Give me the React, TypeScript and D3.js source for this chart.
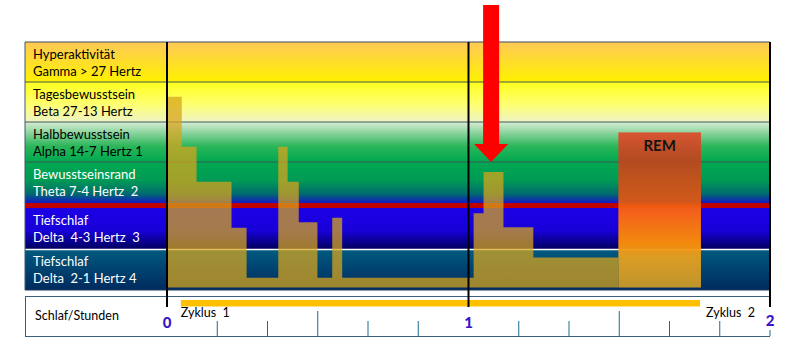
import * as d3 from 'd3';

const W = 798;
const H = 355;

// band labels (top to bottom)
const bandTitles = ['Hyperaktivität', 'Tagesbewusstsein', 'Halbbewusstsein', 'Bewusstseinsrand', 'Tiefschlaf', 'Tiefschlaf'];
const bandSubtitles = ['Gamma > 27 Hertz', 'Beta 27-13 Hertz', 'Alpha 14-7 Hertz 1', 'Theta 7-4 Hertz  2', 'Delta  4-3 Hertz  3', 'Delta  2-1 Hertz 4'];

// hypnogram: step start (hours) and depth (band units, 0 = top)
const sleepStart = [0, 0.049, 0.098, 0.214, 0.264, 0.369, 0.4, 0.437, 0.499, 0.548, 0.581, 1.017, 1.05, 1.116, 1.215, 1.497];
const sleepDepth = [1.37, 2.62, 3.43, 4.48, 5.7, 2.62, 3.43, 4.35, 5.7, 4.24, 5.7, 4.13, 3.22, 4.47, 5.21, 5.21];
const sleepFloor = 5.94;

// REM phase
const remStart = 1.497;
const remEnd = 1.771;
const remDepth = 2.26;

// cycle bar + axis
const cycleStart = 0.046;
const cycleEnd = 1.768;
const hourTicks = [0, 1, 2];
const minorTicks = [1, 2, 3, 4, 5, 7, 8, 9, 10, 11].map((i) => i / 6);
const arrowHour = 1.075;

const bandGradients: [number, string][][] = [
  [[0, '#ffc957'], [1, '#fff200']],
  [[0, '#ffff1c'], [0.55, '#ffff70'], [1, '#eef3c4']],
  [[0, '#d8ecd4'], [0.6, '#2cb65a'], [1, '#00a850']],
  [[0, '#00a850'], [0.45, '#009a55'], [0.78, '#006a6e'], [1, '#1418c8']],
  [[0, '#1c00e6'], [0.55, '#1800d8'], [1, '#00005e']],
  [[0, '#005a80'], [1, '#002a5e']],
];
const bandTextColor = ['#000', '#000', '#000', '#fff', '#fff', '#fff'];

const remGradient: [number, string][] = [
  [0, '#dc4e2e'],
  [0.18, '#bc461f'],
  [0.45, '#dc5a14'],
  [0.5, '#ff6410'],
  [0.72, '#ff9206'],
  [0.8, '#e8a020'],
  [1, '#c89a28'],
];

export default function App() {
  const x = d3.scaleLinear().domain([0, 2]).range([167, 770]);
  const y = d3.scaleLinear().domain([0, 1, 2, 3, 4, 5, 6]).range([42, 82, 122, 162, 208, 249, 290]);
  const left = 25;

  const pts = sleepStart.map((t, i) => ({ t, d: sleepDepth[i] }));
  const area = d3
    .area<{ t: number; d: number }>()
    .x((p) => x(p.t))
    .y0(y(sleepFloor))
    .y1((p) => y(p.d))
    .curve(d3.curveStepAfter);

  const ax = x(arrowHour);
  const arrow = [
    [ax - 8, 5],
    [ax + 8, 5],
    [ax + 8, 144],
    [ax + 17, 144],
    [ax, 162],
    [ax - 17, 144],
    [ax - 8, 144],
  ]
    .map((p) => p.join(','))
    .join(' ');

  const font = 'Lato, "Open Sans", sans-serif';

  return (
    <svg width={W} height={H} style={{ position: 'absolute', left: 0, top: 0, background: '#fff' }} fontFamily={font}>
      <defs>
        {bandGradients.map((stops, i) => (
          <linearGradient key={i} id={`band${i}`} x1="0" y1="0" x2="0" y2="1">
            {stops.map(([o, c]) => (
              <stop key={o} offset={o} stopColor={c} />
            ))}
          </linearGradient>
        ))}
        <linearGradient id="rem" x1="0" y1="0" x2="0" y2="1">
          {remGradient.map(([o, c]) => (
            <stop key={o} offset={o} stopColor={c} />
          ))}
        </linearGradient>
      </defs>

      {/* bands */}
      {bandTitles.map((_, i) => {
        const top = y(i) + (i === 5 ? 1 : 0);
        const bottom = i === 3 ? y(4) - 5 : y(i + 1);
        return <rect key={i} x={left} y={top} width={x(2) - left} height={bottom - top} fill={`url(#band${i})`} />;
      })}
      {/* red line */}
      <rect x={left} y={y(4) - 5} width={x(2) - left} height={5} fill="#c00000" />
      {/* band separators */}
      {[1, 2, 3].map((i) => (
        <line key={i} x1={left} x2={x(2)} y1={y(i)} y2={y(i)} stroke="#3d5a5a" strokeWidth={1} />
      ))}
      <line x1={left} x2={x(2)} y1={y(0)} y2={y(0)} stroke="#3d4d5a" strokeWidth={1} />
      <line x1={left} x2={x(2)} y1={y(5) + 0.5} y2={y(5) + 0.5} stroke="#fff" strokeWidth={1.5} />
      <line x1={left} x2={x(2)} y1={y(6)} y2={y(6)} stroke="#1e3a5f" strokeWidth={1} />
      <line x1={left} x2={left} y1={y(0)} y2={y(6)} stroke="#3d5a6a" strokeWidth={1} />

      {/* band labels */}
      {bandTitles.map((t, i) => (
        <text key={i} x={33} fontSize={13} fill={bandTextColor[i]} style={{ whiteSpace: 'pre' }}>
          <tspan x={33} y={y(i) + 17}>
            {t}
          </tspan>
          <tspan x={33} y={y(i) + 34}>
            {bandSubtitles[i]}
          </tspan>
        </text>
      ))}

      {/* hypnogram */}
      <path d={area(pts) ?? ''} fill="#d6a41c" fillOpacity={0.74} />

      {/* REM */}
      <rect
        x={x(remStart)}
        y={y(remDepth)}
        width={x(remEnd) - x(remStart)}
        height={y(sleepFloor) - y(remDepth)}
        fill="url(#rem)"
        fillOpacity={0.95}
      />
      <text x={(x(remStart) + x(remEnd)) / 2} y={y(remDepth) + 19} textAnchor="middle" fontSize={15} fontWeight={700} fill="#141414">
        REM
      </text>

      {/* axis box */}
      <line x1={left} x2={x(2)} y1={296.5} y2={296.5} stroke="#3a5f7f" />
      <line x1={left} x2={x(2)} y1={336.5} y2={336.5} stroke="#3a5f7f" />
      <line x1={left + 0.5} x2={left + 0.5} y1={296.5} y2={336.5} stroke="#3a5f7f" />
      <text x={35} y={320} fontSize={12.5} fill="#000">
        Schlaf/Stunden
      </text>

      {/* cycle bar */}
      <rect x={x(cycleStart)} y={300} width={x(cycleEnd) - x(cycleStart)} height={6.5} fill="#ffc000" />
      <text x={x(cycleStart)} y={317} fontSize={12.5} fill="#000" style={{ whiteSpace: 'pre' }}>
        Zyklus  1
      </text>
      <text x={x(cycleEnd) + 6} y={317} fontSize={12.5} fill="#000" style={{ whiteSpace: 'pre' }}>
        Zyklus  2
      </text>

      {/* minor ticks */}
      {minorTicks.map((t, i) => {
        const tall = Math.abs((t * 6) % 3) < 0.01;
        return <line key={i} x1={x(t)} x2={x(t)} y1={tall ? 311 : 321} y2={336} stroke="#1f6a8f" strokeWidth={1} />;
      })}
      <line x1={x(2)} x2={x(2)} y1={330} y2={336} stroke="#1f6a8f" />

      {/* hour lines */}
      {hourTicks.map((h) => (
        <line key={h} x1={x(h)} x2={x(h)} y1={y(0)} y2={307} stroke="#000" strokeWidth={2} />
      ))}
      {hourTicks.map((h) => (
        <text key={h} x={x(h)} y={h === 2 ? 326 : 328} textAnchor="middle" fontSize={15} fontWeight={900} fill="#3a14c8">
          {h}
        </text>
      ))}

      {/* arrow */}
      <polygon points={arrow} fill="#ff0000" />
    </svg>
  );
}
